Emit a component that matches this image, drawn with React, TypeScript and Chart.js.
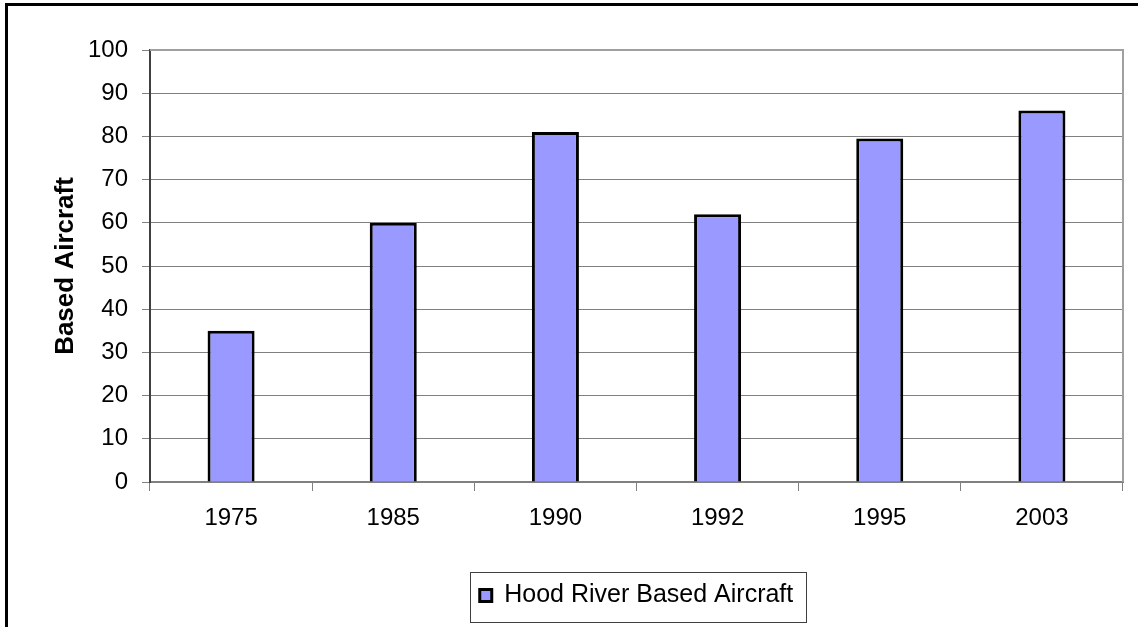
import React, { useEffect, useRef } from "react";
import { Chart, registerables } from "chart.js";

Chart.register(...registerables);

const categories = ["1975", "1985", "1990", "1992", "1995", "2003"];
const basedAircraft = [35, 60, 81, 62, 79.5, 86];
const seriesLabel = "Hood River Based Aircraft";
const yAxisTitle = "Based Aircraft";
const yMin = 0;
const yMax = 100;
const yStep = 10;

const FONT = "'Liberation Sans', Arial, sans-serif";

const framePlugin = {
  id: "frame",
  beforeDraw(chart: any) {
    const ctx = chart.ctx;
    ctx.save();
    ctx.fillStyle = "#ffffff";
    ctx.fillRect(0, 0, chart.width, chart.height);
    ctx.strokeStyle = "#000000";
    ctx.lineWidth = 3;
    ctx.strokeRect(6.5, 4.5, chart.width + 50, chart.height + 50);
    ctx.restore();
  },
  afterDraw(chart: any) {
    const ctx = chart.ctx;
    const a = chart.chartArea;
    ctx.save();
    ctx.strokeStyle = "#a0a0a0";
    ctx.lineWidth = 2;
    ctx.beginPath();
    ctx.moveTo(a.left, a.top);
    ctx.lineTo(a.right, a.top);
    ctx.lineTo(a.right, a.bottom);
    ctx.stroke();
    // legend frame
    const lg = chart.legend;
    if (lg && lg.legendHitBoxes && lg.legendHitBoxes.length) {
      const hb = lg.legendHitBoxes[0];
      const cy = hb.top + hb.height / 2;
      ctx.strokeStyle = "#404040";
      ctx.lineWidth = 1;
      ctx.strokeRect(
        Math.round(hb.left - 10) + 0.5,
        Math.round(cy - 24) + 0.5,
        Math.round(hb.width + 22),
        50
      );
    }
    ctx.restore();
  },
};

export default function App() {
  const ref = useRef<HTMLCanvasElement>(null);
  useEffect(() => {
    if (!ref.current) return;
    const chart = new Chart(ref.current, {
      type: "bar",
      data: {
        labels: categories,
        datasets: [
          {
            label: seriesLabel,
            data: basedAircraft,
            backgroundColor: "#9999ff",
            borderColor: "#000000",
            borderWidth: 3,
            barPercentage: 0.29,
            categoryPercentage: 1,
          },
        ],
      },
      options: {
        responsive: false,
        animation: false,
        layout: { padding: { top: 50, right: 15, left: 0, bottom: 9 } },
        plugins: {
          legend: {
            position: "bottom",
            fullSize: false,
            labels: {
              font: { family: FONT, size: 25 },
              color: "#000000",
              boxWidth: 12,
              boxHeight: 12,
              padding: 10,
            },
          },
          tooltip: { enabled: false },
        },
        scales: {
          x: {
            offset: true,
            afterFit(scale: any) {
              scale.height = 91;
            },
            grid: {
              offset: true,
              drawOnChartArea: false,
              drawTicks: true,
              tickLength: 9,
              color: "#808080",
              lineWidth: 1,
            },
            border: { color: "#808080", width: 2 },
            ticks: {
              font: { family: FONT, size: 24 },
              color: "#000000",
              padding: 13,
              maxRotation: 0,
            },
          },
          y: {
            min: yMin,
            max: yMax,
            afterFit(scale: any) {
              scale.width = 150;
            },
            grid: {
              color: "#808080",
              lineWidth: 1,
              tickLength: 8,
            },
            border: { color: "#404040", width: 2 },
            ticks: {
              stepSize: yStep,
              font: { family: FONT, size: 24 },
              color: "#000000",
              padding: 14,
            },
            title: {
              display: true,
              text: yAxisTitle,
              font: { family: FONT, size: 26, weight: "bold" },
              color: "#000000",
              padding: { top: 50, bottom: 0 },
            },
          },
        },
      },
      plugins: [framePlugin],
    });
    return () => chart.destroy();
  }, []);
  return (
    <div style={{ position: "absolute", left: 0, top: 0, width: 1138, height: 627 }}>
      <canvas ref={ref} width={1138} height={627} />
    </div>
  );
}
